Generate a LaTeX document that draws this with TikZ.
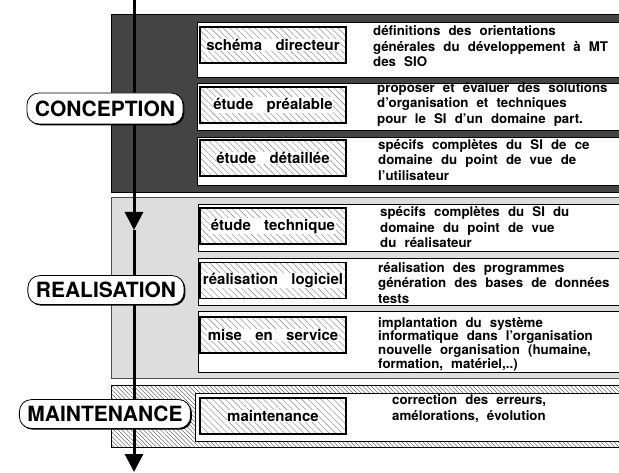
\documentclass[tikz,border=0pt]{standalone}
\usepackage{fontspec}
\setmainfont{TeX Gyre Heros}[WordSpace=2.2]
\newfontfamily\phasefont{TeX Gyre Heros}[WordSpace=3.2]
\usetikzlibrary{arrows.meta,patterns.meta,shadows}

\definecolor{conceptgray}{HTML}{444444}
\definecolor{realgray}{HTML}{DDDDDD}

\tikzset{
  phasebox/.style={draw, line width=1.3pt, inner sep=0pt,
    pattern={Lines[angle=-45,distance=4.5pt,line width=0.4pt]}, pattern color=gray,
    minimum width=146pt, minimum height=36pt},
  phaselabel/.style={fill=white, inner sep=0.6pt,
    font=\phasefont\bfseries\fontsize{15}{17}\selectfont},
  stagepill/.style={draw, fill=white, rounded corners=12pt, line width=0.8pt,
    inner xsep=8pt, inner ysep=6.5pt, font=\bfseries\fontsize{21}{23}\selectfont,
    drop shadow={shadow xshift=1.3pt, shadow yshift=-1.3pt, fill=black, opacity=1}},
  infobox/.style={draw, fill=white, line width=0.8pt},
  infotext/.style={anchor=west, align=left, inner sep=0pt,
    font=\bfseries\fontsize{13.3}{15.5}\selectfont},
  flow/.style={line width=3pt, -{Triangle[width=18pt,length=18pt]}}
}

\begin{document}
\begin{tikzpicture}[x=1pt,y=-1pt]
  \useasboundingbox (0,0) rectangle (619,473);
  % the three stages
  \filldraw[fill=conceptgray, draw=black] (111,14) rectangle (630,192);
  \filldraw[fill=realgray, draw=gray!60!black] (111,197) rectangle (630,378);
  \draw[pattern={Lines[angle=-45,distance=3pt,line width=0.35pt]},
    pattern color=black!75] (111,385) rectangle (630,447);
  % white boxes, one per phase
  \draw[infobox] (197,22) rectangle (630,77);
  \draw[infobox] (197,83) rectangle (630,130);
  \draw[infobox] (197,137) rectangle (630,185);
  \draw[infobox] (198,204) rectangle (630,251);
  \draw[infobox] (198,258) rectangle (630,305);
  \draw[infobox] (198,311) rectangle (630,372);
  \draw[infobox] (195,393) rectangle (630,441);
  % hatched phase names
  \foreach \yc/\lab [count=\i] in {45/{schéma directeur}, 105/{étude préalable},
      158/{étude détaillée}, 226/{étude technique}, 280.5/{réalisation logiciel},
      335/{mise en service}, 416/{maintenance}}{%
    \node[phasebox] (ph\i) at (273,\yc) {};
    \node[phaselabel] at (ph\i) {\lab};}
  % what each phase does
  \node[infotext] (txt1) at (373,46.5) {définitions des orientations\\
    générales du développement à MT\\des SIO};
  \node[infotext] (txt2) at (377,104) {proposer et évaluer des solutions\\
    d'organisation et techniques\\pour le SI d'un domaine part.};
  \node[infotext] (txt3) at (378,160) {spécifs complètes du SI de ce\\
    domaine du point de vue de\\l'utilisateur};
  \node[infotext] (txt4) at (380,227.5) {spécifs complètes du SI du\\
    domaine du point de vue\\du réalisateur};
  \node[infotext] (txt5) at (378,283) {réalisation des programmes\\
    génération des bases de données\\tests};
  \node[infotext, font=\bfseries\fontsize{13.3}{13.7}\selectfont] (txt6) at (378,344)
    {implantation du système\\informatique dans l'organisation\\
    nouvelle organisation (humaine,\\formation, matériel,..)};
  \node[infotext] (txt7) at (392,408.5) {correction des erreurs,\\
    amélorations, évolution};
  % life cycle arrow
  \coordinate (start) at (134,0);
  \coordinate (half) at (134,230);
  \coordinate (stop) at (134,472);
  \draw[flow] (start) -- (half);
  \draw[flow] (half) -- (stop);
  % stage names
  \node[stagepill, minimum height=31pt] (conc) at (105,108.5) {CONCEPTION};
  \node[stagepill, minimum height=26pt] (real) at (106,290) {REALISATION};
  \node[stagepill, minimum height=28pt] (maint) at (105,414) {MAINTENANCE};
\end{tikzpicture}
\end{document}
